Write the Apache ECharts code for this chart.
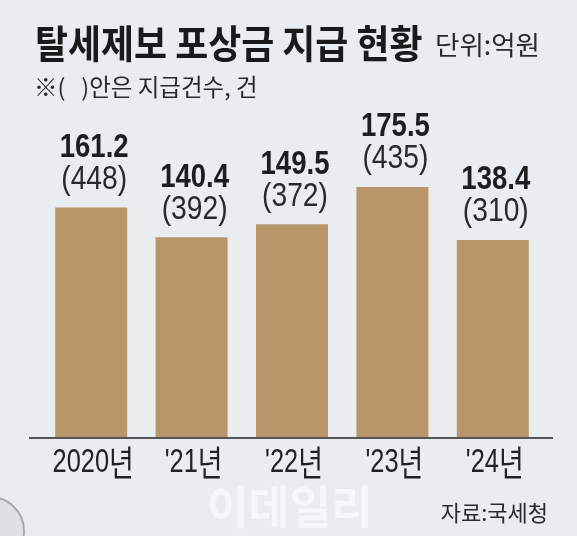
<!DOCTYPE html>
<html>
<head>
<meta charset="utf-8">
<script src="https://cdn.jsdelivr.net/npm/echarts@6/dist/echarts.min.js"></script>
<style>
html,body{margin:0;padding:0;background:#e9edf0;}
#chart{width:577px;height:536px;}
</style>
</head>
<body>
<div id="chart"></div>
<script>
const categories = ['2020년', "'21년", "'22년", "'23년", "'24년"];
const amounts = [161.2, 140.4, 149.5, 175.5, 138.4];
const counts = [448, 392, 372, 435, 310];
const titleText = '탈세제보 포상금 지급 현황';
const unitText = '단위:억원';
const noteText = '※(   )안은 지급건수, 건';
const sourceText = '자료:국세청';
const watermarkText = '이데일리';

const numFont = '"Liberation Sans", "Noto Sans CJK KR", sans-serif';
const krFont = '"Noto Sans CJK KR", sans-serif';

function txt(x, y, s, font, fill, sx, rich) {
  const style = { text: s, font: font, fill: fill, align: 'center', textAlign: 'center', verticalAlign: 'middle', textVerticalAlign: 'middle' };
  if (rich) style.rich = rich;
  return { type: 'text', x: x, y: y, scaleX: sx, style: style };
}

function catLabel(s) {
  const k = s.indexOf('년');
  return '{d|' + s.slice(0, k) + '}{y|' + s.slice(k) + '}';
}

const chart = echarts.init(document.getElementById('chart'));
chart.setOption({
  backgroundColor: '#e9edf0',
  animation: false,
  grid: { left: 41, right: 34, top: 152, bottom: 98 },
  xAxis: {
    type: 'category',
    data: categories,
    axisLine: { show: false },
    axisTick: { show: false },
    axisLabel: { show: false }
  },
  yAxis: {
    type: 'value', min: 0, max: 200,
    show: false, splitLine: { show: false }
  },
  series: [{
    type: 'bar',
    data: amounts,
    barWidth: 72,
    itemStyle: { color: '#b9966a' }
  }, {
    type: 'custom',
    data: amounts.map((v, i) => [i, v, counts[i]]),
    z: 5,
    renderItem: function (params, api) {
      const i = api.value(0);
      const top = api.coord([i, api.value(1)]);
      const base = api.coord([i, 0]);
      const cx = top[0] + 3;
      return {
        type: 'group',
        children: [
          txt(cx, top[1] - 60, amounts[i].toFixed(1), 'bold 34px ' + numFont, '#1e1e1e', 0.81),
          txt(cx, top[1] - 28, '(' + counts[i] + ')', '34px ' + numFont, '#2a2a2a', 0.83),
          txt(base[0] + 2, base[1] + 25, catLabel(categories[i]), '33px ' + numFont, '#222', 0.77, {
            d: { font: '33px ' + numFont, fill: '#222' },
            y: { font: '35px ' + krFont, fill: '#222' }
          })
        ]
      };
    }
  }],
  graphic: [
    { type: 'line', shape: { x1: 29, y1: 438, x2: 553, y2: 438 }, style: { stroke: '#555', lineWidth: 2 }, z: 10 },
    { type: 'text', x: 35, y: 24, scaleX: 0.92, style: { text: titleText, font: 'bold 39px ' + krFont, fill: '#1a1a1a' } },
    { type: 'text', left: 435, top: 32, style: { text: unitText, font: '26.5px ' + krFont, fill: '#2a2a2a' } },
    { type: 'text', left: 34, top: 75, style: { text: noteText, font: '23.5px ' + krFont, fill: '#2a2a2a' } },
    { type: 'text', right: 29, top: 502, style: { text: sourceText, font: '22px ' + krFont, fill: '#2a2a2a' } },
    { type: 'text', left: 207, top: 484, style: { text: watermarkText, font: 'bold 45px ' + krFont, fill: 'rgba(255,255,255,0.55)' } },
    { type: 'circle', shape: { cx: -10, cy: 531, r: 34 }, style: { fill: '#dfe2e4', stroke: '#a8acb0', lineWidth: 2 } }
  ]
});
</script>
</body>
</html>
